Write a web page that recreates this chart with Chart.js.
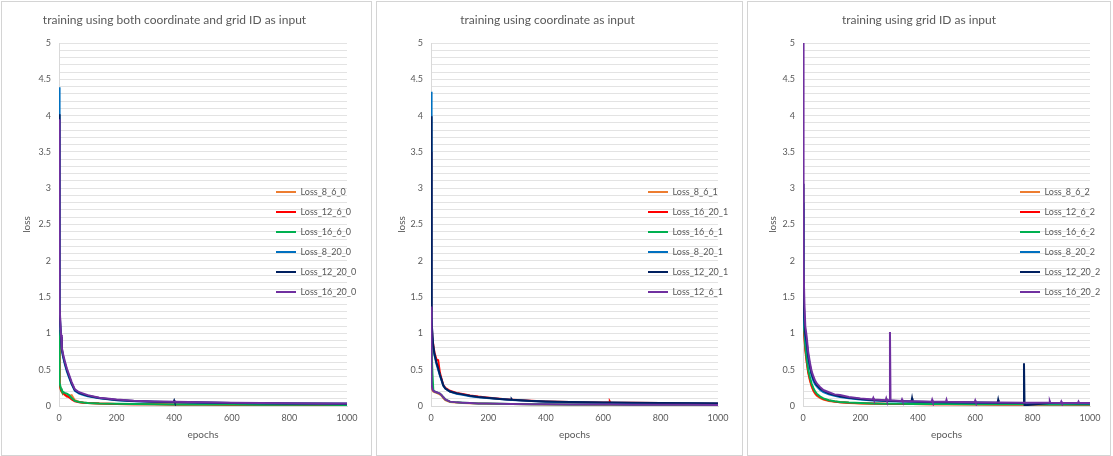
<!DOCTYPE html>
<html>
<head>
<meta charset="utf-8">
<title>loss curves</title>
<script src="https://cdn.jsdelivr.net/npm/chart.js@4.4.1/dist/chart.umd.min.js"></script>
<style>
  html, body { margin: 0; padding: 0; background: #fff; }
  body { width: 1113px; height: 456px; position: relative; overflow: hidden; }
  .panel { position: absolute; top: 1px; height: 455px; border: 1px solid #d4d4d4; box-sizing: border-box; background: #fff; }
  .panel canvas { position: absolute; left: 0; top: 0; }
</style>
</head>
<body>
<div class="panel" style="left:1px;width:371px"><canvas id="chart0" width="369" height="453"></canvas></div>
<div class="panel" style="left:376px;width:367px"><canvas id="chart1" width="365" height="453"></canvas></div>
<div class="panel" style="left:747px;width:364px"><canvas id="chart2" width="362" height="453"></canvas></div>
<script>
// ---- data ----
const X_TICKS = [0, 200, 400, 600, 800, 1000];

// panel 1: coordinate + grid ID
const TITLE_0 = "training using both coordinate and grid ID as input";
const NAMES_0 = ["Loss_8_6_0", "Loss_12_6_0", "Loss_16_6_0", "Loss_8_20_0", "Loss_12_20_0", "Loss_16_20_0"];
const EPOCHS_0 = [0, 1, 2, 3, 5, 7, 10, 15, 20, 27, 35, 44, 55, 70, 85, 100, 140, 200, 260, 330, 398, 400, 402, 500, 600, 700, 800, 900, 1000];
const LOSS_8_6_0   = [0.9, 0.6, 0.38, 0.28, 0.24, 0.21, 0.19, 0.17, 0.15, 0.13, 0.14, 0.15, 0.08, 0.055, 0.045, 0.04, 0.033, 0.028, 0.025, 0.023, 0.021, 0.021, 0.021, 0.019, 0.018, 0.017, 0.016, 0.015, 0.014];
const LOSS_12_6_0  = [0.95, 0.62, 0.4, 0.3, 0.25, 0.22, 0.2, 0.18, 0.16, 0.14, 0.12, 0.09, 0.065, 0.05, 0.045, 0.04, 0.033, 0.028, 0.025, 0.023, 0.021, 0.021, 0.021, 0.019, 0.018, 0.017, 0.016, 0.015, 0.014];
const LOSS_16_6_0  = [1.05, 0.7, 0.45, 0.32, 0.27, 0.24, 0.21, 0.19, 0.18, 0.17, 0.15, 0.11, 0.07, 0.055, 0.048, 0.043, 0.035, 0.03, 0.026, 0.024, 0.022, 0.022, 0.022, 0.02, 0.019, 0.018, 0.017, 0.016, 0.015];
const LOSS_8_20_0  = [4.39, 2.6, 1.7, 1.3, 1.05, 0.93, 0.76, 0.66, 0.58, 0.48, 0.39, 0.30, 0.21, 0.17, 0.15, 0.135, 0.105, 0.08, 0.066, 0.058, 0.052, 0.052, 0.052, 0.046, 0.041, 0.037, 0.034, 0.032, 0.030];
const LOSS_12_20_0 = [4.02, 2.6, 1.75, 1.35, 1.08, 0.95, 0.78, 0.68, 0.60, 0.50, 0.41, 0.31, 0.22, 0.18, 0.16, 0.14, 0.11, 0.083, 0.068, 0.06, 0.054, 0.075, 0.054, 0.047, 0.042, 0.038, 0.035, 0.033, 0.031];
const LOSS_16_20_0 = [3.95, 2.7, 1.8, 1.4, 1.12, 0.98, 0.80, 0.70, 0.62, 0.52, 0.43, 0.33, 0.23, 0.19, 0.17, 0.15, 0.115, 0.088, 0.072, 0.063, 0.057, 0.057, 0.057, 0.05, 0.045, 0.041, 0.038, 0.035, 0.033];

// panel 2: coordinate only
const TITLE_1 = "training using coordinate as input";
const NAMES_1 = ["Loss_8_6_1", "Loss_16_20_1", "Loss_16_6_1", "Loss_8_20_1", "Loss_12_20_1", "Loss_12_6_1"];
const EPOCHS_1 = [0, 1, 2, 3, 5, 8, 12, 19, 25, 31, 37, 43, 50, 66, 89, 110, 136, 165, 194, 240, 279, 281, 283, 350, 400, 483, 600, 621, 623, 625, 700, 800, 900, 1000];
const LOSS_8_6_1   = [1.1, 0.7, 0.42, 0.27, 0.22, 0.2, 0.19, 0.18, 0.17, 0.16, 0.14, 0.11, 0.08, 0.055, 0.047, 0.042, 0.038, 0.034, 0.031, 0.028, 0.026, 0.026, 0.026, 0.023, 0.021, 0.02, 0.018, 0.018, 0.018, 0.018, 0.017, 0.016, 0.015, 0.014];
const LOSS_16_20_1 = [3.5, 2.2, 1.5, 1.15, 0.95, 0.84, 0.74, 0.64, 0.63, 0.46, 0.37, 0.29, 0.25, 0.21, 0.18, 0.165, 0.145, 0.13, 0.118, 0.1, 0.086, 0.086, 0.086, 0.071, 0.063, 0.056, 0.049, 0.048, 0.062, 0.048, 0.045, 0.041, 0.038, 0.036];
const LOSS_16_6_1  = [1.2, 0.95, 0.85, 0.78, 0.45, 0.22, 0.2, 0.19, 0.18, 0.17, 0.15, 0.12, 0.09, 0.06, 0.05, 0.045, 0.04, 0.036, 0.033, 0.03, 0.028, 0.028, 0.028, 0.025, 0.023, 0.021, 0.019, 0.019, 0.019, 0.019, 0.018, 0.017, 0.016, 0.015];
const LOSS_8_20_1  = [4.33, 2.5, 1.6, 1.2, 0.95, 0.8, 0.7, 0.58, 0.5, 0.42, 0.35, 0.28, 0.24, 0.2, 0.17, 0.155, 0.135, 0.12, 0.11, 0.095, 0.082, 0.082, 0.082, 0.068, 0.06, 0.053, 0.046, 0.045, 0.045, 0.045, 0.042, 0.039, 0.037, 0.035];
const LOSS_12_20_1 = [3.99, 2.4, 1.55, 1.2, 0.96, 0.82, 0.72, 0.6, 0.52, 0.43, 0.36, 0.28, 0.24, 0.2, 0.175, 0.16, 0.14, 0.125, 0.115, 0.098, 0.085, 0.095, 0.085, 0.07, 0.062, 0.055, 0.048, 0.047, 0.047, 0.047, 0.044, 0.041, 0.038, 0.036];
const LOSS_12_6_1  = [1.37, 0.9, 0.5, 0.3, 0.23, 0.21, 0.2, 0.19, 0.18, 0.17, 0.15, 0.12, 0.09, 0.06, 0.05, 0.045, 0.04, 0.036, 0.033, 0.03, 0.028, 0.028, 0.028, 0.025, 0.023, 0.021, 0.019, 0.019, 0.019, 0.019, 0.018, 0.017, 0.016, 0.015];

// panel 3: grid ID only
const TITLE_2 = "training using grid ID as input";
const NAMES_2 = ["Loss_8_6_2", "Loss_12_6_2", "Loss_16_6_2", "Loss_8_20_2", "Loss_12_20_2", "Loss_16_20_2"];
const EPOCHS_2 = [0, 1, 2, 3, 5, 8, 13, 18, 24, 30, 36, 42, 48, 60, 71, 90, 110, 129, 160, 200,
  243, 245, 247, 288, 290, 292, 301, 303, 305, 343, 345, 347, 378, 380, 382, 448, 450, 452, 498, 500, 502,
  598, 600, 602, 678, 680, 682, 768, 770, 772, 858, 860, 862, 898, 900, 902, 958, 960, 962, 1000];
const LOSS_8_6_2 = [1.75, 1.45, 1.25, 1.1, 0.95, 0.78, 0.6, 0.46, 0.35, 0.27, 0.21, 0.17, 0.14, 0.11, 0.09, 0.07, 0.058, 0.05, 0.042, 0.036,
  0.032, 0.032, 0.032, 0.029, 0.029, 0.029, 0.028, 0.028, 0.028, 0.027, 0.027, 0.027, 0.026, 0.026, 0.026, 0.024, 0.024, 0.024, 0.023, 0.023, 0.023,
  0.022, 0.022, 0.022, 0.021, 0.021, 0.021, 0.02, 0.02, 0.02, 0.019, 0.019, 0.019, 0.019, 0.019, 0.019, 0.018, 0.018, 0.018, 0.018];
const LOSS_12_6_2 = [1.6, 1.4, 1.22, 1.08, 0.94, 0.78, 0.61, 0.47, 0.37, 0.28, 0.22, 0.18, 0.15, 0.12, 0.095, 0.075, 0.062, 0.053, 0.044, 0.038,
  0.033, 0.033, 0.033, 0.03, 0.03, 0.03, 0.029, 0.029, 0.029, 0.028, 0.028, 0.028, 0.027, 0.027, 0.027, 0.025, 0.025, 0.025, 0.024, 0.024, 0.024,
  0.023, 0.023, 0.023, 0.022, 0.022, 0.022, 0.021, 0.021, 0.021, 0.02, 0.02, 0.02, 0.02, 0.02, 0.02, 0.019, 0.019, 0.019, 0.019];
const LOSS_16_6_2 = [1.7, 1.5, 1.3, 1.15, 1.0, 0.83, 0.65, 0.5, 0.4, 0.31, 0.25, 0.2, 0.17, 0.13, 0.105, 0.08, 0.065, 0.056, 0.047, 0.04,
  0.035, 0.035, 0.035, 0.032, 0.032, 0.032, 0.031, 0.031, 0.031, 0.03, 0.03, 0.03, 0.029, 0.029, 0.029, 0.027, 0.027, 0.027, 0.026, 0.026, 0.026,
  0.025, 0.025, 0.025, 0.024, 0.024, 0.024, 0.023, 0.023, 0.023, 0.022, 0.022, 0.022, 0.022, 0.022, 0.022, 0.021, 0.021, 0.021, 0.021];
const LOSS_8_20_2 = [2.8, 2.1, 1.7, 1.4, 1.1, 0.95, 0.82, 0.65, 0.52, 0.42, 0.35, 0.3, 0.27, 0.22, 0.19, 0.16, 0.14, 0.125, 0.105, 0.088,
  0.076, 0.076, 0.076, 0.069, 0.069, 0.069, 0.067, 0.067, 0.067, 0.062, 0.062, 0.062, 0.058, 0.058, 0.058, 0.053, 0.053, 0.053, 0.05, 0.05, 0.05,
  0.046, 0.046, 0.046, 0.043, 0.043, 0.043, 0.041, 0.041, 0.041, 0.039, 0.039, 0.039, 0.038, 0.038, 0.038, 0.037, 0.037, 0.037, 0.036];
const LOSS_12_20_2 = [3.06, 2.3, 1.8, 1.5, 1.2, 1.0, 0.88, 0.7, 0.56, 0.45, 0.38, 0.33, 0.29, 0.24, 0.21, 0.175, 0.15, 0.135, 0.115, 0.095,
  0.082, 0.082, 0.082, 0.074, 0.074, 0.074, 0.072, 0.072, 0.072, 0.066, 0.066, 0.066, 0.062, 0.105, 0.062, 0.056, 0.056, 0.056, 0.053, 0.053, 0.053,
  0.049, 0.049, 0.049, 0.046, 0.085, 0.046, 0.043, 0.59, 0.01, 0.041, 0.041, 0.041, 0.04, 0.04, 0.04, 0.039, 0.039, 0.039, 0.038];
const LOSS_16_20_2 = [5.0, 3.5, 2.5, 1.9, 1.4, 1.1, 0.95, 0.75, 0.6, 0.48, 0.41, 0.35, 0.31, 0.26, 0.22, 0.19, 0.16, 0.15, 0.125, 0.105,
  0.09, 0.11, 0.09, 0.08, 0.105, 0.08, 0.078, 1.02, 0.078, 0.07, 0.09, 0.07, 0.066, 0.066, 0.066, 0.06, 0.085, 0.06, 0.057, 0.085, 0.057,
  0.052, 0.075, 0.052, 0.049, 0.049, 0.049, 0.046, 0.046, 0.046, 0.044, 0.065, 0.044, 0.043, 0.062, 0.043, 0.042, 0.06, 0.042, 0.041];

const LINE_COLORS = ["#ED7D31", "#FF0000", "#00B050", "#0070C0", "#002060", "#7030A0"];

// ---- drawing ----
const TEXT_GRAY = "#595959";
const LEGEND_FONT = 9;
const LEGEND_PAD = 11;

Chart.defaults.font.family = 'Lato, "Open Sans", sans-serif';
Chart.defaults.color = TEXT_GRAY;

// Excel puts the legend over the right part of the plot area
function legendPlacer(fromRight, firstRowY) {
    return {
        id: "legendPlacer",
        afterLayout(chart) {
            const lg = chart.legend;
            lg.left = chart.chartArea.right - fromRight - LEGEND_PAD;
            lg.top = firstRowY - LEGEND_PAD - LEGEND_FONT / 2;
            lg.width = 140;
            lg.height = 200;
            lg.right = lg.left + lg.width;
            lg.bottom = lg.top + lg.height;
        }
    };
}

function isHalfStep(v) {
    return Math.abs(v * 2 - Math.round(v * 2)) < 1e-6;
}

function drawPanel(canvasId, title, names, epochs, series, box) {
    const datasets = series.map((values, i) => ({
        label: names[i],
        data: epochs.map((e, j) => ({ x: e, y: values[j] })),
        borderColor: LINE_COLORS[i],
        backgroundColor: LINE_COLORS[i],
        borderWidth: 2,
        pointRadius: 0,
        tension: 0,
        order: series.length - i // later series on top, like Excel
    }));

    new Chart(document.getElementById(canvasId), {
        type: "line",
        data: { datasets: datasets },
        options: {
            responsive: false,
            animation: false,
            layout: { padding: { left: 0, right: box.padRight, top: 0, bottom: 0 } },
            plugins: {
                title: {
                    display: true,
                    text: title,
                    color: TEXT_GRAY,
                    font: { size: 12, weight: "normal" },
                    padding: { top: 11, bottom: 15.6 }
                },
                legend: {
                    position: "chartArea",
                    align: "start",
                    labels: {
                        usePointStyle: true,
                        pointStyle: "line",
                        pointStyleWidth: 20,
                        padding: LEGEND_PAD,
                        color: TEXT_GRAY,
                        font: { size: LEGEND_FONT },
                        sort: (a, b) => a.datasetIndex - b.datasetIndex
                    }
                },
                tooltip: { enabled: false }
            },
            scales: {
                x: {
                    type: "linear",
                    min: X_TICKS[0],
                    max: X_TICKS[X_TICKS.length - 1],
                    grid: { drawOnChartArea: false, drawTicks: false },
                    border: { color: "#d9d9d9" },
                    ticks: {
                        stepSize: X_TICKS[1] - X_TICKS[0],
                        padding: 7,
                        maxRotation: 0,
                        color: TEXT_GRAY,
                        font: { size: 9 },
                        callback: v => String(v)
                    },
                    title: {
                        display: true,
                        text: "epochs",
                        color: TEXT_GRAY,
                        font: { size: 10 },
                        padding: { top: 0, bottom: 14 }
                    },
                    afterFit(scale) { scale.height = 49; }
                },
                y: {
                    min: 0,
                    max: 5,
                    grid: { color: "#e3e3e3", drawTicks: false },
                    border: { color: "#d9d9d9" },
                    ticks: {
                        stepSize: 0.1,
                        maxTicksLimit: 60,
                        autoSkip: false,
                        padding: 8,
                        color: TEXT_GRAY,
                        font: { size: 9 },
                        callback: v => isHalfStep(v) ? String(Math.round(v * 10) / 10) : ""
                    },
                    title: {
                        display: true,
                        text: "loss",
                        color: TEXT_GRAY,
                        font: { size: 10 },
                        padding: { top: 19, bottom: 0 }
                    },
                    afterFit(scale) { scale.width = box.yWidth; }
                }
            }
        },
        plugins: [legendPlacer(box.legendFromRight, 190)]
    });
}

drawPanel("chart0", TITLE_0, NAMES_0, EPOCHS_0,
    [LOSS_8_6_0, LOSS_12_6_0, LOSS_16_6_0, LOSS_8_20_0, LOSS_12_20_0, LOSS_16_20_0],
    { yWidth: 57, padRight: 24, legendFromRight: 71 });

drawPanel("chart1", TITLE_1, NAMES_1, EPOCHS_1,
    [LOSS_8_6_1, LOSS_16_20_1, LOSS_16_6_1, LOSS_8_20_1, LOSS_12_20_1, LOSS_12_6_1],
    { yWidth: 54, padRight: 24, legendFromRight: 70 });

drawPanel("chart2", TITLE_2, NAMES_2, EPOCHS_2,
    [LOSS_8_6_2, LOSS_12_6_2, LOSS_16_6_2, LOSS_8_20_2, LOSS_12_20_2, LOSS_16_20_2],
    { yWidth: 55, padRight: 20, legendFromRight: 70 });
</script>
</body>
</html>
